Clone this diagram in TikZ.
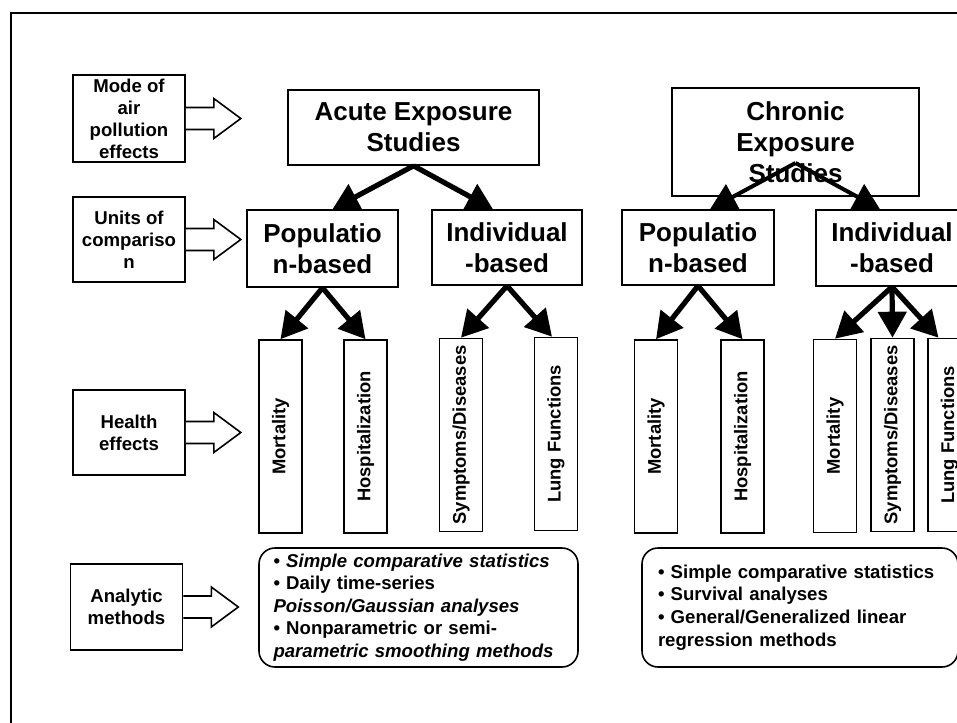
\documentclass[tikz,border=0pt]{standalone}
\usepackage{fontspec}
\setmainfont{Liberation Sans}
\usetikzlibrary{arrows.meta, calc}

\begin{document}
\begin{tikzpicture}[x=0.5pt,y=-0.5pt]
          \tikzset{ lbl/.style  ={draw, thick, minimum width=56pt, inner sep=0pt, align=center, font=\fontsize{9.3}{11}\selectfont\bfseries} }
          \tikzset{ ttl/.style  ={draw, thick, inner sep=0pt, align=center, font=\fontsize{13}{15.5}\selectfont\bfseries} }
          \tikzset{ eff/.style  ={draw, thick, rotate=90, minimum width=96.5pt, minimum height=21.5pt, inner sep=0pt, font=\fontsize{9.2}{11}\selectfont\bfseries} }
          \tikzset{ meth/.style ={draw, thick, rounded corners=8pt, inner sep=0pt, minimum height=59.5pt, align=left, font=\fontsize{9.3}{11.3}\selectfont\bfseries} }
          \tikzset{ fat/.style  ={-{Triangle[length=13pt,width=14pt]}, line width=2.6pt} }
          \tikzset{ bigarr/.style={draw, thick, fill=white} }

          \useasboundingbox (0,0) rectangle (957,722);
          \clip (0,0) rectangle (957,722);
          \draw[line width=1pt] (11,13) rectangle (990,760);

          % row labels
          \node[lbl, minimum height=43.5pt] (mode)     at (129,118.5) {Mode of\\air\\pollution\\effects};
          \node[lbl, minimum height=42.5pt] (units)    at (129,239.5) {Units of\\compariso\\n};
          \node[lbl, minimum height=42.5pt] (health)   at (129,432.5) {Health\\effects};
          \node[lbl, minimum height=43pt]   (analytic) at (126.5,607) {Analytic\\methods};

          \foreach \b in {mode,units,health,analytic}
            \draw[bigarr] (\b.east) ++(0,-11) -- ++(28,0) -- ++(0,-9) -- ++(27,20) -- ++(-27,20) -- ++(0,-9) -- ++(-28,0);

          % exposure studies
          \node[ttl, minimum width=125.5pt, minimum height=37.5pt] (acute)   at (413.5,127.5) {Acute Exposure\\Studies};
          \node[ttl, minimum width=123.5pt, minimum height=54pt]   (chronic) at (795.5,142)   {Chronic\\Exposure\\Studies};

          \node[ttl, minimum width=75.5pt, minimum height=38.5pt] (popA) at (322.5,248.5) {Populatio\\n-based};
          \node[ttl, minimum width=75pt,   minimum height=37.5pt] (indA) at (507,247.5)   {Individual\\-based};
          \node[ttl, minimum width=76pt,   minimum height=37.5pt] (popC) at (698,247.5)   {Populatio\\n-based};
          \node[ttl, minimum width=76pt,   minimum height=38pt]   (indC) at (892,248)     {Individual\\-based};

          % health effects
          \node[eff] (mortA)  at (280.5,436.5) {Mortality};
          \node[eff] (hospA)  at (365.5,436.5) {Hospitalization};
          \node[eff] (sympA)  at (461,435)     {Symptoms/Diseases};
          \node[eff] (lungA)  at (556,434)     {Lung Functions};
          \node[eff] (mortC)  at (656,436.5)   {Mortality};
          \node[eff] (hospC)  at (742.5,436.5) {Hospitalization};
          \node[eff] (mortC2) at (835,436)     {Mortality};
          \node[eff] (sympC)  at (892.5,435)   {Symptoms/Diseases};
          \node[eff] (lungC)  at (949.5,435)   {Lung Functions};

          % analytic methods
          \node[meth, minimum width=159.5pt, text width=145pt] (methA) at (418.5,607.5)
            {• \textit{Simple comparative statistics}\\• Daily time-series\\\textit{Poisson/Gaussian analyses}\\• Nonparametric or semi-\\\textit{parametric smoothing methods}};
          \node[meth, minimum width=158pt, text width=142pt] (methC) at (800,607.5)
            {• Simple comparative statistics\\• Survival analyses\\• General/Generalized linear\\regression methods};

          \draw[fat] (acute.south) -- ([xshift=5pt]popA.north);
          \draw[fat] (acute.south) -- ([xshift=-7pt]indA.north);
          \draw[fat, line width=2pt] ([yshift=-10.5pt]chronic.center) -- ([xshift=6pt]popC.north);
          \draw[fat, line width=2pt] ([yshift=-10.5pt]chronic.center) -- ([xshift=-6pt]indC.north);

          \draw[fat] (popA.south) -- (mortA.east);
          \draw[fat] (popA.south) -- (hospA.east);
          \draw[fat] (indA.south) -- (sympA.east);
          \draw[fat] (indA.south) -- ([xshift=-2pt]lungA.east);
          \draw[fat] (popC.south) -- (mortC.east);
          \draw[fat] (popC.south) -- (hospC.east);
          \draw[fat] (indC.south) -- (mortC2.east);
          \draw[fat] (indC.south) -- (sympC.east);
          \draw[fat] (indC.south) -- ([xshift=-5.5pt]lungC.east);
\end{tikzpicture}
\end{document}
